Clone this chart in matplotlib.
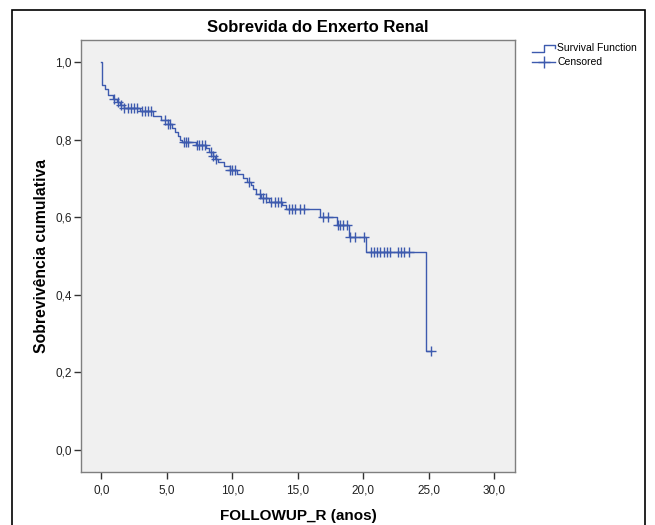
import matplotlib
matplotlib.use('Agg')
import matplotlib.pyplot as plt
from matplotlib.lines import Line2D
from matplotlib.patches import Rectangle
import numpy as np

# Kaplan-Meier steps (time in years, survival after the step)
event_times = [0.0, 0.03, 0.08, 0.25, 0.5, 0.9, 1.2, 1.4, 1.7, 2.95, 3.94, 4.55,
               5.08, 5.4, 5.6, 5.83, 6.0, 6.2, 7.27, 8.0, 8.26, 8.5, 8.7, 8.9,
               9.4, 9.8, 10.4, 10.8, 11.1, 11.4, 11.6, 11.8, 12.2, 12.8, 13.8,
               14.1, 16.7, 18.0, 18.9, 20.2, 24.8]
survival = [1.0, 0.97, 0.94, 0.93, 0.915, 0.905, 0.897, 0.89, 0.882, 0.875, 0.86,
            0.85, 0.84, 0.83, 0.82, 0.81, 0.80, 0.795, 0.787, 0.778, 0.768, 0.758,
            0.75, 0.742, 0.732, 0.722, 0.712, 0.702, 0.692, 0.682, 0.672, 0.66,
            0.65, 0.64, 0.632, 0.622, 0.60, 0.58, 0.55, 0.51, 0.255]

# censored observations (time in years)
censored_times = [1.0, 1.25, 1.5, 1.75, 2.05, 2.3, 2.5, 2.7, 3.1, 3.35, 3.55, 3.8,
                  4.85, 5.1, 5.25, 6.3, 6.45, 6.6, 7.3, 7.5, 7.7, 7.9, 8.35, 8.55,
                  8.75, 9.8, 10.0, 10.2, 11.3, 12.1, 12.35, 12.6, 12.95, 13.25,
                  13.5, 13.7, 14.3, 14.55, 14.8, 15.15, 15.45, 16.9, 17.35, 18.05,
                  18.25, 18.5, 18.8, 19.0, 19.4, 20.1, 20.6, 20.8, 21.05, 21.3,
                  21.6, 21.8, 22.05, 22.65, 22.9, 23.1, 23.5, 25.2]
end_time = 25.2

x_ticks = [0, 5, 10, 15, 20, 25, 30]
x_tick_labels = ['0,0', '5,0', '10,0', '15,0', '20,0', '25,0', '30,0']
y_ticks = [0.0, 0.2, 0.4, 0.6, 0.8, 1.0]
y_tick_labels = ['0,0', '0,2', '0,4', '0,6', '0,8', '1,0']

blue = '#3d5aae'
plt.rcParams['font.family'] = ['Liberation Sans', 'DejaVu Sans']

fig = plt.figure(figsize=(6.55, 5.25), dpi=100)
W, H = 655.0, 525.0

def px(x, y):
    # pixel position -> figure fraction
    return x / W, 1 - y / H

# outer frame of the chart
fig.add_artist(Rectangle((12 / W, -0.05), (645 - 12) / W, 1.05 - 10 / H,
                         transform=fig.transFigure, fill=False,
                         edgecolor='black', linewidth=1.2))

ax = fig.add_axes([81 / W, 1 - 472 / H, (515 - 81) / W, (472 - 40) / H])
ax.set_facecolor('#f0f0f0')
for s in ax.spines.values():
    s.set_color('#7f7f7f')
    s.set_linewidth(1.0)

# survival curve as step function
t = np.array(event_times + [end_time])
s = np.array(survival + [survival[-1]])
ax.step(t, s, where='post', color=blue, linewidth=1.0)

# censored marks sit on the curve
idx = np.searchsorted(np.array(event_times), np.array(censored_times), side='right') - 1
cy = np.array(survival)[idx]
ax.plot(censored_times, cy, linestyle='none', marker='+', markersize=7,
        markeredgewidth=1.0, color=blue)

ax.set_xlim(-1.55, 31.6)
ax.set_ylim(-0.057, 1.057)
ax.set_xticks(x_ticks)
ax.set_xticklabels(x_tick_labels)
ax.set_yticks(y_ticks)
ax.set_yticklabels(y_tick_labels)
ax.tick_params(axis='both', direction='out', length=5, width=1.0,
               color='#333333', labelsize=8.5, labelcolor='#222222', pad=1.5)
ax.tick_params(axis='x', pad=4)

fig.text(*px(318, 27), 'Sobrevida do Enxerto Renal', fontsize=12,
         fontweight='bold', ha='center', va='center')
ax.set_xlabel('FOLLOWUP_R (anos)', fontsize=11, fontweight='bold', labelpad=9)
ax.set_ylabel('Sobrevivência cumulativa', fontsize=11.3, fontweight='bold', labelpad=5)

# legend drawn at the top right, outside the plot box
lx = [532, 544, 544, 555, 555]
ly = [52, 52, 45, 45, 48]
fig.add_artist(Line2D([px(a, b)[0] for a, b in zip(lx, ly)],
                      [px(a, b)[1] for a, b in zip(lx, ly)],
                      transform=fig.transFigure, color=blue, linewidth=1.0))
fig.add_artist(Line2D([px(532, 62)[0], px(555, 62)[0]], [px(532, 62)[1]] * 2,
                      transform=fig.transFigure, color=blue, linewidth=1.0))
fig.add_artist(Line2D([px(543.5, 62)[0]], [px(543.5, 62)[1]], marker='+',
                      markersize=9, markeredgewidth=1.0, transform=fig.transFigure,
                      color=blue))
fig.text(*px(557, 48), 'Survival Function', fontsize=7.5, va='center', ha='left')
fig.text(*px(557, 62), 'Censored', fontsize=7.5, va='center', ha='left')

fig.savefig('out.png', dpi=100)
